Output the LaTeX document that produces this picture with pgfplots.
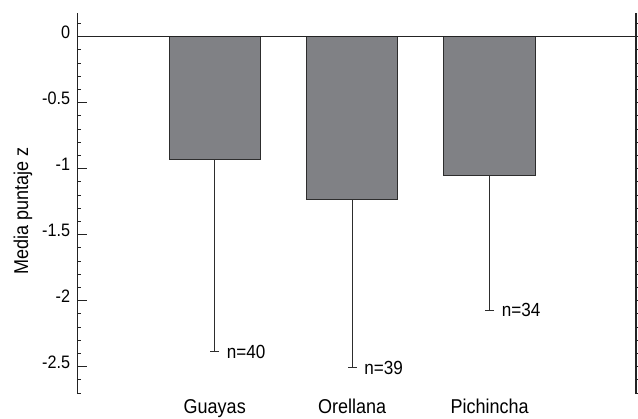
\documentclass[border=0pt]{standalone}
\usepackage{pgfplots}
\pgfplotsset{compat=1.18}
\usepackage{fontspec}
\setmainfont{Liberation Sans}[FakeStretch=0.9]
\definecolor{barfill}{RGB}{128,129,133}
\definecolor{edge}{RGB}{45,45,45}
\definecolor{axisc}{RGB}{35,35,35}
\begin{document}
\begin{tikzpicture}
\begin{axis}[
  scale only axis, width=558.7bp, height=381bp,
  at={(0,0)}, anchor=south west,
  xmin=-1, xmax=3.065, ymin=-2.707, ymax=0.18,
  axis lines*=left,
  x axis line style={draw=none},
  y axis line style={color=axisc, line width=1.2bp, -},
  xtick={0,1,2}, xticklabels={Guayas,Orellana,Pichincha},
  xtick style={draw=none},
  xticklabel style={font=\fontsize{20bp}{24bp}\selectfont, anchor=base, inner sep=0pt, yshift=-9bp},
  ytick={-2.5,-2,-1.5,-1,-0.5,0},
  yticklabels={-2.5,-2,-1.5,-1,-0.5,0},
  minor ytick={-2.7,-2.6,-2.5,-2.4,-2.3,-2.2,-2.1,-2.0,-1.9,-1.8,-1.7,-1.6,-1.5,-1.4,-1.3,-1.2,-1.1,-1.0,-0.9,-0.8,-0.7,-0.6,-0.5,-0.4,-0.3,-0.2,-0.1,0,0.1},
  tick align=inside,
  major tick length=10bp, minor tick length=4bp,
  ytick style={color=axisc, line width=1.1bp},
  minor tick style={color=axisc, line width=1.1bp},
  yticklabel style={font=\fontsize{18bp}{22bp}\selectfont, anchor=east, inner sep=0pt, xshift=-7bp, yshift=4bp},
  ylabel={Media puntaje z},
  ylabel style={font=\fontsize{20bp}{24bp}\selectfont, at={(axis description cs:-0.0882,0.4816)}, anchor=base},
  ybar, bar width=91.4bp,
  clip=false,
]
\addplot[fill=barfill, draw=edge, line width=1bp,
  error bars/.cd, y dir=minus, y explicit,
  error bar style={color=edge, line width=1.2bp},
  error mark options={rotate=90, mark size=4.5bp, line width=1.2bp, color=edge}]
  coordinates {(0,-0.929) -= (0,1.457) (1,-1.237) -= (0,1.271) (2,-1.053) -= (0,1.02)};
\draw[axisc, line width=1.2bp] (axis cs:-1,0) -- (axis cs:3.065,0);
\node[anchor=west, inner sep=0pt, xshift=12bp, font=\fontsize{19bp}{22bp}\selectfont] at (axis cs:0,-2.386) {n=40};
\node[anchor=west, inner sep=0pt, xshift=12bp, font=\fontsize{19bp}{22bp}\selectfont] at (axis cs:1,-2.508) {n=39};
\node[anchor=west, inner sep=0pt, xshift=12bp, font=\fontsize{19bp}{22bp}\selectfont] at (axis cs:2,-2.073) {n=34};
\end{axis}
\begin{axis}[
  scale only axis, width=558.7bp, height=381bp,
  at={(0,0)}, anchor=south west,
  xmin=-1, xmax=3.065, ymin=-2.707, ymax=0.18,
  axis y line*=right, axis x line=none,
  y axis line style={color=axisc, line width=1.2bp, -},
  ytick={-2.7,-2.6,-2.5,-2.4,-2.3,-2.2,-2.1,-2.0,-1.9,-1.8,-1.7,-1.6,-1.5,-1.4,-1.3,-1.2,-1.1,-1.0,-0.9,-0.8,-0.7,-0.6,-0.5,-0.4,-0.3,-0.2,-0.1,0,0.1},
  yticklabels=\empty,
  xtick=\empty,
  tick align=outside,
  major tick length=1.9bp,
  ytick style={color=axisc, line width=1.1bp},
]
\end{axis}
\pgfresetboundingbox
\path[use as bounding box] (-77.3bp,-25bp) rectangle (560.7bp,394bp);
\end{tikzpicture}
\end{document}
